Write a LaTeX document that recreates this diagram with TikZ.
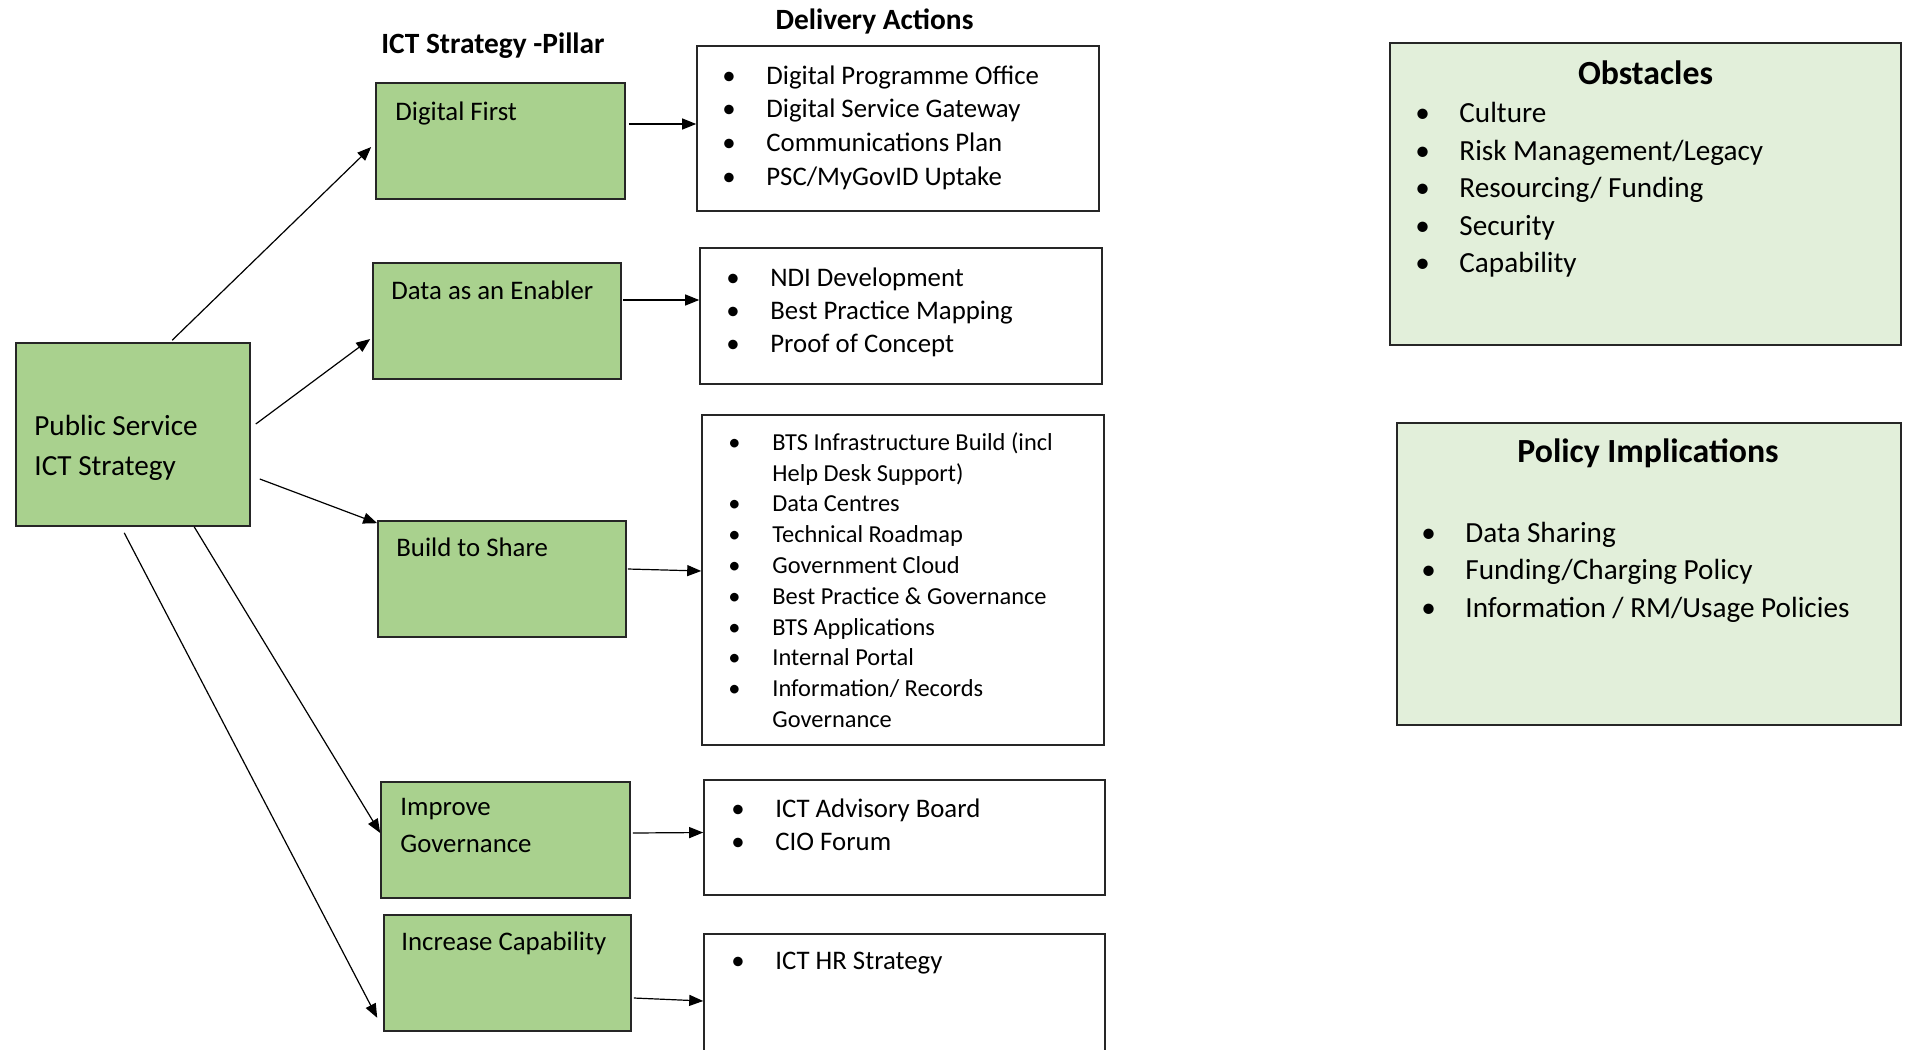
\documentclass[tikz,border=0pt]{standalone}
\usepackage{fontspec}
\setmainfont{Carlito}
\usetikzlibrary{positioning}
\usetikzlibrary{calc}
\usetikzlibrary{fit}
\usetikzlibrary{arrows.meta}
\definecolor{pillargreen}{HTML}{A9D18E}
\definecolor{palegreen}{HTML}{E2EFDA}
\newcommand{\bul}{\makebox[22pt][l]{\textbullet}}
\newcommand{\ind}{\hspace*{22pt}}

\begin{document}
\begin{tikzpicture}[x=0.5pt, y=-0.5pt,
    box/.style={draw=black!85, line width=0.8pt, inner sep=0pt},
    pillar/.style={box, fill=pillargreen},
    note/.style={box, fill=palegreen},
    txt/.style={inner sep=0pt, anchor=base west, align=left, font=\fontsize{13.4}{18.5}\selectfont},
    list/.style={inner sep=0pt, anchor=base west, align=left},
    head/.style={inner sep=0pt, font=\bfseries\fontsize{14.7}{17}\selectfont},
    arr/.style={-{Triangle[length=7pt, width=5.5pt]}, line width=0.6pt}]
    \useasboundingbox (0,0) rectangle (1910,1049);

    \node[head] (pillarhd) at (493,45.5) {ICT Strategy -Pillar};
    \node[head] (actionhd) at (874.5,21.5) {Delivery Actions};

    % strategy and pillars
    \node[pillar, fit={(16,343) (250,526)}] (ps) {};
    \node[pillar, fit={(376,83) (625,199)}] (df) {};
    \node[pillar, fit={(373,263) (621,379)}] (de) {};
    \node[pillar, fit={(378,521) (626,637)}] (bs) {};
    \node[pillar, fit={(381,782) (630,898)}] (ig) {};
    \node[pillar, fit={(384,915) (631,1031)}] (ic) {};

    % (base of a text with several lines = its last line)
    \node[txt, font=\fontsize{14.6}{20}\selectfont] (pst) at (34,475) {Public Service\\ICT Strategy};
    \node[txt] (dft) at (395,120) {Digital First};
    \node[txt] (det) at (391,299) {Data as an Enabler};
    \node[txt] (bst) at (396,556) {Build to Share};
    \node[txt] (igt) at (400,852) {Improve\\Governance};
    \node[txt] (ict) at (401,950.5) {Increase Capability};

    % delivery actions
    \node[box, fit={(697,46) (1099,211)}] (a1) {};
    \node[box, fit={(700,248) (1102,384)}] (a2) {};
    \node[box, fit={(702,415) (1104,745)}] (a3) {};
    \node[box, fit={(704,780) (1105,895)}] (a4) {};
    \node[box, fit={(704,934) (1105,1062)}] (a5) {};

    \node[list, font=\fontsize{13.4}{16.9}\selectfont] (a1t) at (722,185.5)
        {\bul Digital Programme Office\\\bul Digital Service Gateway\\\bul Communications Plan\\\bul PSC/MyGovID Uptake};
    \node[list, font=\fontsize{13.4}{16.4}\selectfont] (a2t) at (726,352)
        {\bul NDI Development\\\bul Best Practice Mapping\\\bul Proof of Concept};
    \node[list, font=\fontsize{12.2}{15.4}\selectfont] (a3t) at (728,727.5)
        {\bul BTS Infrastructure Build (incl\\\ind Help Desk Support)\\\bul Data Centres\\\bul Technical Roadmap\\\bul Government Cloud\\\bul Best Practice \& Governance\\\bul BTS Applications\\\bul Internal Portal\\\bul Information/ Records\\\ind Governance};
    \node[list, font=\fontsize{13.4}{16.25}\selectfont] (a4t) at (731,850)
        {\bul ICT Advisory Board\\\bul CIO Forum};
    \node[list, font=\fontsize{13.4}{16.25}\selectfont] (a5t) at (731,969.5)
        {\bul ICT HR Strategy};

    % obstacles and policy
    \node[note, fit={(1390,43) (1901,345)}] (obs) {};
    \node[head, font=\bfseries\fontsize{16.9}{20}\selectfont] (obshd) at (1645.5,73) {Obstacles};
    \node[list, font=\fontsize{14.6}{18.75}\selectfont] (obst) at (1415,272.5)
        {\bul Culture\\\bul Risk Management/Legacy\\\bul Resourcing/ Funding\\\bul Security\\\bul Capability};
    \node[note, fit={(1397,423) (1901,725)}] (pol) {};
    \node[head, font=\bfseries\fontsize{16.9}{20}\selectfont] (polhd) at (1648,453.5) {Policy Implications};
    \node[list, font=\fontsize{14.6}{18.6}\selectfont] (polt) at (1421,617)
        {\bul Data Sharing\\\bul Funding/Charging Policy\\\bul Information / RM/Usage Policies};

    % strategy to pillars
    \draw[arr] ($(ps.north west)+(157,-2)$) -- ($(df.west)+(-4,6)$);
    \draw[arr] ($(ps.east)+(5,-10.5)$) -- ($(de.west)+(-2,18)$);
    \draw[arr] ($(ps.east)+(9,44.5)$) -- ($(bs.north west)+(0,3)$);
    \draw[arr] ($(ps.south west)+(179,0)$) -- ($(ig.west)+(0,-7)$);
    \draw[arr] ($(ps.south west)+(109,6)$) -- ($(ic.south west)+(-6,-14)$);

    % pillars to actions
    \draw[arr] ($(df.east)+(3,-17)$) coordinate (s1) -- (s1 -| a1.west);
    \draw[arr] ($(de.east)+(1,-21)$) coordinate (s2) -- (s2 -| a2.west);
    \draw[arr] ($(bs.east)+(1,-10)$) -- ($(a3.west)+(0,-9)$);
    \draw[arr] ($(ig.east)+(2,-7)$) -- ($(a4.west)+(0,-5)$);
    \draw[arr] ($(ic.east)+(2,25)$) -- ($(a5.west)+(0,3)$);
\end{tikzpicture}
\end{document}
